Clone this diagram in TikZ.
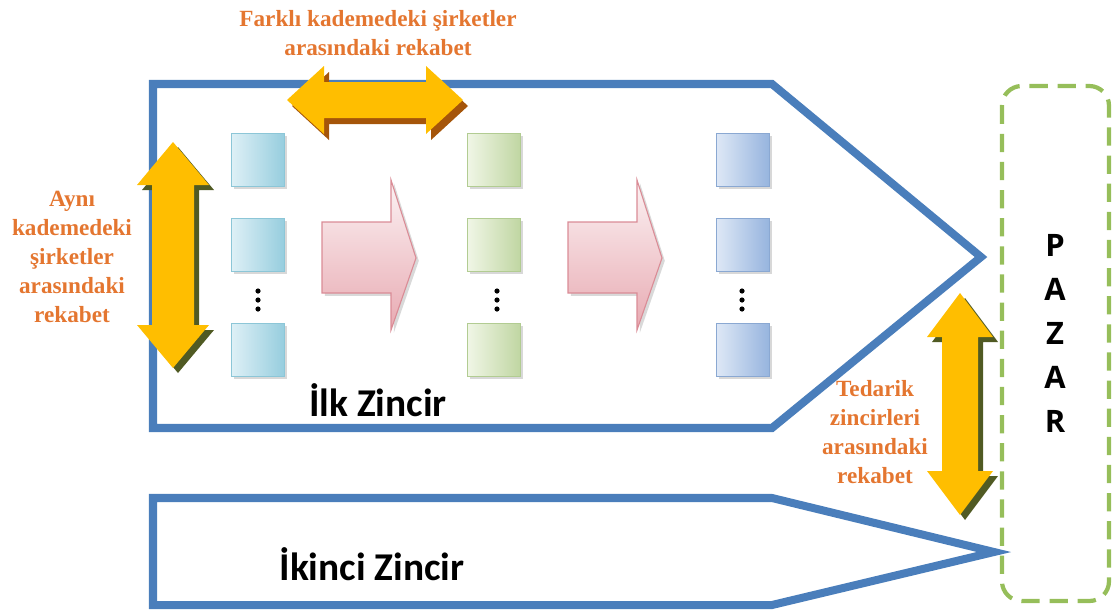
\documentclass[tikz,border=0pt]{standalone}
\usepackage{fontspec}
\usepackage{xcolor}
\usepackage{tikz}
\usetikzlibrary{positioning, calc, shadows}
\setmainfont{Liberation Serif}
\newfontfamily\chainfont{Carlito}
\newfontfamily\marketfont{Open Sans}

\definecolor{chainblue}{RGB}{74,126,187}
\definecolor{rivalgold}{RGB}{255,190,0}
\definecolor{rivalshade}{RGB}{80,90,35}
\definecolor{rivalbrown}{RGB}{165,85,10}
\definecolor{labelorange}{RGB}{228,118,48}
\definecolor{marketgreen}{RGB}{150,190,90}
\definecolor{flowpink}{RGB}{232,170,178}
\definecolor{flowline}{RGB}{218,140,150}
\definecolor{tealdark}{RGB}{150,205,222}
\definecolor{teallight}{RGB}{222,240,246}
\definecolor{tealedge}{RGB}{140,198,215}
\definecolor{greendark}{RGB}{192,214,162}
\definecolor{greenlight}{RGB}{240,246,230}
\definecolor{greenedge}{RGB}{178,204,146}
\definecolor{bluedark}{RGB}{150,180,222}
\definecolor{bluelight}{RGB}{222,232,246}
\definecolor{blueedge}{RGB}{138,168,210}

\begin{document}
\begin{tikzpicture}[x=0.025cm, y=-0.025cm,
    chain/.style={draw=chainblue, line width=5.7pt, line join=miter},
    firm/.style={minimum size=1.33cm, inner sep=0pt, line width=0.8pt, shading angle=135,
        drop shadow={shadow xshift=2pt, shadow yshift=-2pt, fill=black!30, opacity=0.5}},
    tealfirm/.style={firm, draw=tealedge, left color=teallight, right color=tealdark},
    greenfirm/.style={firm, draw=greenedge, left color=greenlight, right color=greendark},
    bluefirm/.style={firm, draw=blueedge, left color=bluelight, right color=bluedark},
    rival/.style={fill=rivalgold},
    rivaltxt/.style={text=labelorange, font=\bfseries\fontsize{16.5}{20.5}\selectfont, align=center},
    chaintxt/.style={font=\chainfont\bfseries\fontsize{28}{32}\selectfont, anchor=base, inner sep=0pt},
    flow/.style={draw=flowline, line width=0.8pt, top color=flowpink!15, bottom color=flowpink}]
    \useasboundingbox (0,0) rectangle (1113,613);

    % market box
    \draw[marketgreen, line width=3pt, dash pattern=on 13pt off 7pt, rounded corners=14pt]
        (1002,86) rectangle (1109,601);
    \foreach \ch [count=\i] in {P,A,Z,A,R}
        \node[font=\marketfont\bfseries\fontsize{22}{26}\selectfont] (m\i) at (1055,{201+44*\i}) {\ch};

    % the two chains
    \draw[chain] (153,84) -- (772,84) -- (981,257) -- (772,428) -- (153,428) -- cycle;
    \draw[chain] (153,498) -- (772,498) -- (994,552) -- (772,605) -- (153,605) -- cycle;
    \node[chaintxt] (first) at (378,416) {İlk Zincir};
    \node[chaintxt] (second) at (372,580) {İkinci Zincir};

    % firms in three tiers
    \foreach \y [count=\i] in {160,245,350} {
        \node[tealfirm] (t\i) at (258,\y) {};
        \node[greenfirm] (g\i) at (494,\y) {};
        \node[bluefirm] (b\i) at (743,\y) {};
    }
    \foreach \x in {258,497,742}
        \foreach \y in {291,300,309}
            \fill (\x,\y) circle (2.6);

    % flow arrows
    \foreach \dx in {0,246} {
        \fill[black!15, xshift=2pt, yshift=-2pt] (322+\dx,222) -- (391+\dx,222) -- (391+\dx,180) -- (416+\dx,258)
            -- (391+\dx,330) -- (391+\dx,293) -- (322+\dx,293) -- cycle;
        \path[flow] (322+\dx,222) -- (391+\dx,222) -- (391+\dx,180) -- (416+\dx,258)
            -- (391+\dx,330) -- (391+\dx,293) -- (322+\dx,293) -- cycle;
    }

    % rivalry arrows
    \fill[rivalbrown] (292,106) -- (329,72) -- (329,88) -- (431,88) -- (431,72) -- (468,106)
        -- (431,140) -- (431,124) -- (329,124) -- (329,140) -- cycle;
    \fill[rival] (287,100) -- (324,66) -- (324,82) -- (426,82) -- (426,66) -- (463,100)
        -- (426,134) -- (426,118) -- (324,118) -- (324,134) -- cycle;
    \fill[rivalshade] (178,147) -- (214,190) -- (199,190) -- (199,330) -- (214,330) -- (178,373)
        -- (142,330) -- (157,330) -- (157,190) -- (142,190) -- cycle;
    \fill[rival] (173,142) -- (209,185) -- (194,185) -- (194,325) -- (209,325) -- (173,368)
        -- (137,325) -- (152,325) -- (152,185) -- (137,185) -- cycle;
    \fill[rivalshade] (965,298) -- (998,342) -- (983,342) -- (983,476) -- (998,476) -- (965,520)
        -- (932,476) -- (947,476) -- (947,342) -- (932,342) -- cycle;
    \fill[rival] (960,293) -- (993,337) -- (978,337) -- (978,471) -- (993,471) -- (960,515)
        -- (927,471) -- (942,471) -- (942,337) -- (927,337) -- cycle;

    % labels
    \node[rivaltxt] (tiers) at (378,33) {Farklı kademedeki şirketler\\arasındaki rekabet};
    \node[rivaltxt] (same) at (72,257) {Aynı\\kademedeki\\şirketler\\arasındaki\\rekabet};
    \node[rivaltxt] (chains) at (875,432) {Tedarik\\zincirleri\\arasındaki\\rekabet};
\end{tikzpicture}
\end{document}
